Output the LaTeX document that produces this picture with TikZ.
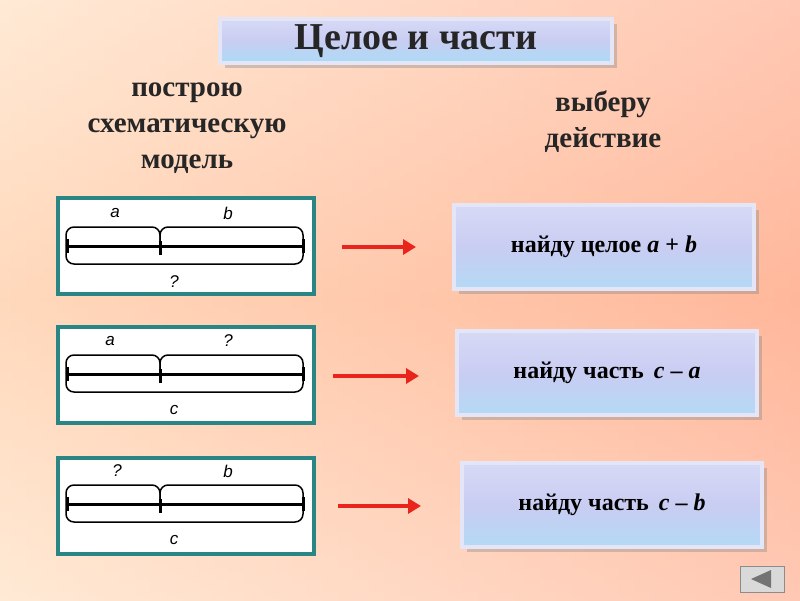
\documentclass[tikz,border=0pt]{standalone}
\usepackage{fontspec}
\setmainfont{Liberation Serif}
\newfontfamily\lsans{Liberation Sans}
\usetikzlibrary{shadows,arrows.meta}
\definecolor{teal1}{HTML}{2A8585}
\definecolor{btn}{HTML}{C9CDF2}
\definecolor{arr}{HTML}{E8241C}
\tikzset{
 schembox/.style={draw=teal1,line width=3.5pt,fill=white,minimum width=256pt,minimum height=96pt,inner sep=0pt},
 btnbox/.style={top color=btn!75!white,bottom color=btn!85!cyan!90!white,middle color=btn,draw=white!50!btn,line width=4pt,minimum width=300pt,minimum height=84pt,
   drop shadow={shadow xshift=5pt,shadow yshift=-5pt,opacity=0.35},font=\bfseries\fontsize{24}{28}\selectfont},
 hdr/.style={align=center,font=\bfseries\fontsize{29}{36}\selectfont,text=black!85},
 lbl/.style={font=\lsans\itshape\fontsize{17}{17}\selectfont},
 redarrow/.style={draw=arr,line width=4pt,-{Triangle[length=13pt,width=15pt]}},
 brace/.style={line width=1.5pt,rounded corners=8pt},
 seg/.style={line width=3pt}
}
\newcommand\schem[6]{%
  \draw[seg] (66,#1) -- (303,#1);
  \draw[line width=3pt] (67,#1-7) -- (67,#1+7) (160,#1-5) -- (160,#1+9) (303,#1-7) -- (303,#1+7);
  \draw[brace] (66,#1) -- (66,#1-19) -- (160,#1-19) -- (160,#1);
  \draw[brace] (160,#1) -- (160,#1-19) -- (303,#1-19) -- (303,#1);
  \draw[brace] (66,#1) -- (66,#1+18) -- (303,#1+18) -- (303,#1);
  \node[lbl] (#5a) at (#6,#1-33) {#2};
  \node[lbl] (#5b) at (228,#1-33) {#3};
  \node[lbl] (#5c) at (174,#1+36) {#4};
}
\begin{document}
\begin{tikzpicture}[x=1pt,y=-1pt]
\useasboundingbox (0,0) rectangle (800,600);
\shade[left color=orange!25!white,right color=orange!55!red!45!white] (0,0) rectangle (800,600);
\shade[top color=white,bottom color=white,middle color=pink!70!orange!60,opacity=0.35] (0,0) rectangle (800,600);
\node[top color=btn!75!white,bottom color=btn!80!cyan!90!white,middle color=btn,draw=white!50!btn,line width=4pt,minimum width=392pt,minimum height=44pt,
  drop shadow={shadow xshift=5pt,shadow yshift=-5pt,opacity=0.35},
  font=\bfseries\fontsize{38}{40}\selectfont,text=black!85] (title) at (416,41) {Целое и части};
\node[hdr] (left) at (187,128) {построю\\схематическую\\модель};
\node[hdr] (right) at (603,122) {выберу\\действие};
\node[schembox] (s1) at (186,246) {};
\node[schembox] (s2) at (186,375) {};
\node[schembox] (s3) at (186,506) {};
\schem{246}{a}{b}{?}{p}{115}
\schem{374}{a}{?}{c}{q}{110}
\schem{504}{?}{b}{c}{r}{117}
\node[btnbox] (b1) at (604,247) {найду целое \textit{a} + \textit{b}};
\node[btnbox] (b2) at (607,373) {найду часть\, \textit{c} – \textit{a}};
\node[btnbox] (b3) at (612,505) {найду часть\, \textit{c} – \textit{b}};
\coordinate (a1s) at (342,247); \coordinate (a1e) at (416,247);
\coordinate (a2s) at (333,376); \coordinate (a2e) at (419,376);
\coordinate (a3s) at (338,506); \coordinate (a3e) at (421,506);
\draw[redarrow] (a1s) -- (a1e);
\draw[redarrow] (a2s) -- (a2e);
\draw[redarrow] (a3s) -- (a3e);
\node[fill=black!15,draw=black!45,line width=1pt,minimum width=44pt,minimum height=26pt] (nav) at (762,579) {};
\fill[black!55] ([xshift=-11pt]nav.center) -- ++(20,-9) -- ++(0,18) -- cycle;
\end{tikzpicture}
\end{document}
